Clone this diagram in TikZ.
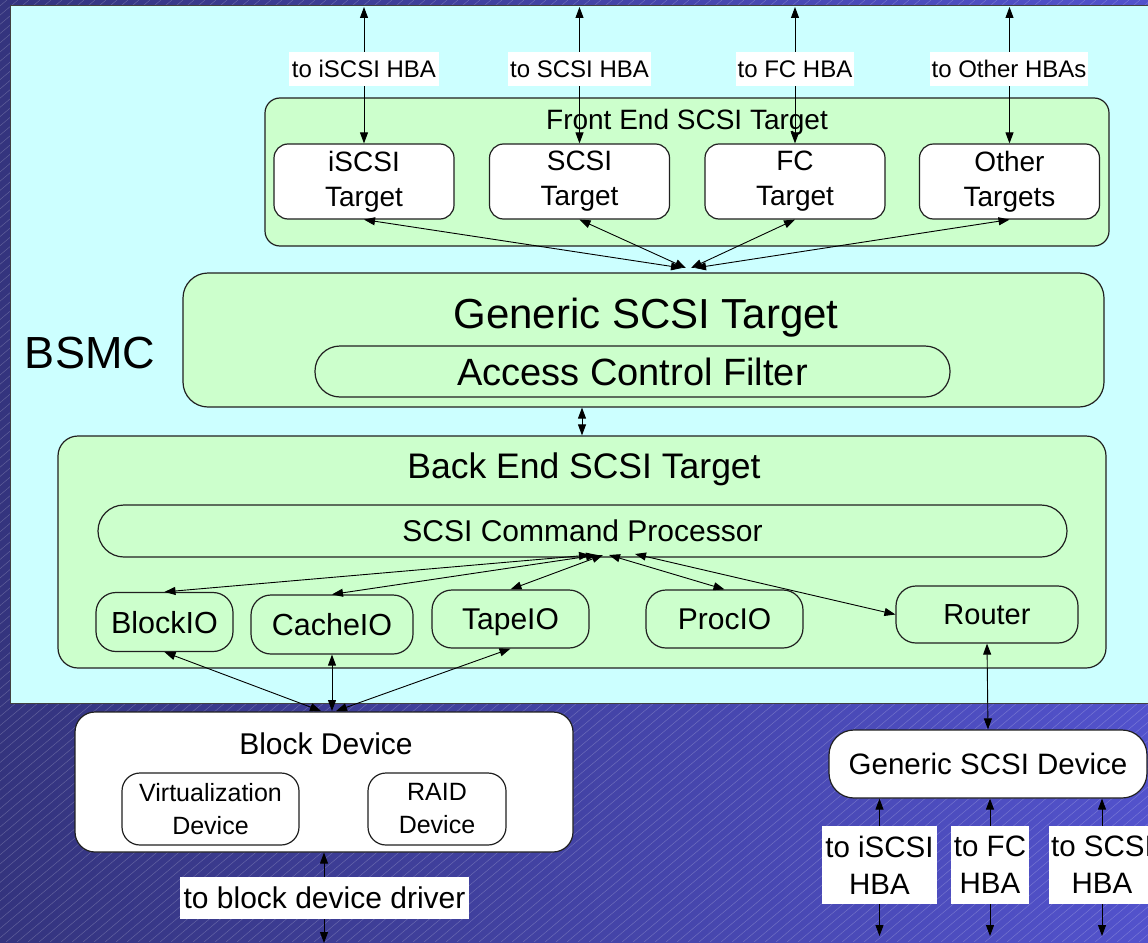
\documentclass[tikz,border=0pt]{standalone}
\usepackage{fontspec}
\setmainfont{Liberation Sans}
\usetikzlibrary{arrows.meta,calc}
\definecolor{panelcyan}{HTML}{CCFFFF}
\definecolor{boxgreen}{HTML}{CCFFCC}
\definecolor{bgleft}{HTML}{34347E}
\definecolor{bgmid}{HTML}{3A3A92}
\definecolor{bgright}{HTML}{5252CC}
\definecolor{edgecol}{HTML}{202020}
\newcommand{\fz}[1]{\fontsize{#1}{#1}\selectfont}
\newcommand{\fzz}[2]{\fontsize{#1}{#2}\selectfont}
\begin{document}
\begin{tikzpicture}[x=1pt,y=-1pt,
  rbox/.style={draw=edgecol, line width=1.2pt, rounded corners=#1, inner sep=0pt, align=center},
  rbox/.default=18pt,
  capc/.style={text height=#1, text depth=0pt},
  txt/.style={inner sep=0pt},
  lbl/.style={fill=white, inner sep=0pt, align=center},
  dbl/.style={{Triangle[length=11pt,width=8pt]}-{Triangle[length=11pt,width=8pt]}, line width=0.9pt, draw=black},
]
\useasboundingbox (0,0) rectangle (1148,942);
% background
\shade[left color=bgleft, middle color=bgmid, right color=bgright] (0,0) rectangle (1148,942);
\begin{scope}
  \clip (0,0) rectangle (1148,942);
  \foreach \i in {-1160,-1149,...,1160}
    \draw[white, opacity=0.22, line width=0.5pt] (\i,942) -- ++(1123,-942);
\end{scope}

% BSMC panel
\node[draw=edgecol!85, fill=panelcyan, line width=1.4pt, inner sep=0pt,
      minimum width=1150pt, minimum height=698pt, anchor=north west] (bsmc) at (10,5) {};
\node[txt, font=\fz{45}, capc=32.4pt] (bsmclabel) at (90,352) {BSMC};

% Front End SCSI Target
\node[rbox=15pt, fill=boxgreen, minimum width=844pt, minimum height=148pt] (fe) at (687,172) {};
\node[txt, font=\fz{28}, capc=20.2pt] (fetitle) at (687,119) {Front End SCSI Target};
\node[rbox=14pt, fill=white, minimum width=180pt, minimum height=75pt, font=\fzz{28}{35}] (tisc) at (364,181.5) {iSCSI\\Target};
\node[rbox=14pt, fill=white, minimum width=180pt, minimum height=75pt, font=\fzz{28}{35}] (tscsi) at (579.5,181.5) {SCSI\\Target};
\node[rbox=14pt, fill=white, minimum width=180pt, minimum height=75pt, font=\fzz{28}{35}] (tfc) at (795,181.5) {FC\\Target};
\node[rbox=14pt, fill=white, minimum width=180pt, minimum height=75pt, font=\fzz{28}{35}] (toth) at (1009.5,181.5) {Other\\Targets};

% Generic SCSI Target
\node[rbox=25pt, fill=boxgreen, minimum width=921pt, minimum height=134pt] (gst) at (643.5,340) {};
\node[txt, font=\fz{42}, capc=30.2pt] (gsttitle) at (646,313) {Generic SCSI Target};
\node[rbox=25pt, fill=boxgreen, minimum width=635pt, minimum height=51pt, font=\fz{38}, capc=27.4pt] (acf) at (632.5,371.5) {Access Control Filter};

% Back End SCSI Target
\node[rbox=20pt, fill=boxgreen, minimum width=1048pt, minimum height=232pt] (be) at (582,552) {};
\node[txt, font=\fz{35.5}, capc=25.6pt] (betitle) at (584,465.5) {Back End SCSI Target};
\node[rbox=26pt, fill=boxgreen, minimum width=969pt, minimum height=52pt, font=\fz{30}, capc=21.6pt] (cmd) at (582.5,531) {SCSI Command Processor};
\node[rbox=20pt, fill=boxgreen, minimum width=137pt, minimum height=59pt, font=\fz{30.5}, capc=22pt] (blockio) at (164.5,622) {BlockIO};
\node[rbox=20pt, fill=boxgreen, minimum width=162pt, minimum height=59pt, font=\fz{30.5}, capc=22pt] (cacheio) at (332,624.5) {CacheIO};
\node[rbox=20pt, fill=boxgreen, minimum width=157pt, minimum height=58pt, font=\fz{30}, capc=21.6pt] (tapeio) at (510.5,619) {TapeIO};
\node[rbox=20pt, fill=boxgreen, minimum width=157pt, minimum height=58pt, font=\fz{30}, capc=21.6pt] (procio) at (724.5,619) {ProcIO};
\node[rbox=20pt, fill=boxgreen, minimum width=182pt, minimum height=57pt, font=\fz{29}, capc=20.9pt] (router) at (987,614.5) {Router};

% Block Device
\node[rbox=20pt, fill=white, minimum width=498pt, minimum height=140pt] (blockdev) at (324,782) {};
\node[txt, font=\fz{30}, capc=21.6pt] (bdtitle) at (326,743.5) {Block Device};
\node[rbox=18pt, fill=white, minimum width=177pt, minimum height=72pt, font=\fzz{25}{33}] (virt) at (210.5,809) {Virtualization\\Device};
\node[rbox=18pt, fill=white, minimum width=138pt, minimum height=72pt, font=\fzz{25}{33}] (raid) at (437,809) {RAID\\Device};

% Generic SCSI Device
\node[rbox=25pt, fill=white, minimum width=318pt, minimum height=68pt, font=\fz{29.5}, capc=21.2pt] (gsd) at (988,764) {Generic SCSI Device};

% coordinates for free connector ends
\coordinate (u1) at (364,7);
\coordinate (u2) at (579.5,7);
\coordinate (u3) at (795,7);
\coordinate (u4) at (1009.5,7);
\coordinate (fc1) at (682,268);
\coordinate (fc2) at (686,268);
\coordinate (fc3) at (691,268);
\coordinate (fc4) at (695,268);
\coordinate (cp1) at (590,555);
\coordinate (cp2) at (597,555);
\coordinate (cp3) at (603,555);
\coordinate (cp4) at (609,555);
\coordinate (cp5) at (635,554);
\coordinate (bd1) at (321,711);
\coordinate (bd2) at (332,711);
\coordinate (bd3) at (336,711);
\coordinate (bdd) at (324,943);
\coordinate (d1) at (879.5,936);
\coordinate (d2) at (990,936);
\coordinate (d3) at (1102,936);

% connectors
\draw[dbl] (tisc.north) -- (u1);
\draw[dbl] (tscsi.north) -- (u2);
\draw[dbl] (tfc.north) -- (u3);
\draw[dbl] (toth.north) -- (u4);
\draw[dbl] (tisc.south) -- (fc1);
\draw[dbl] (tscsi.south) -- (fc2);
\draw[dbl] (tfc.south) -- (fc3);
\draw[dbl] (toth.south) -- (fc4);
\draw[dbl] (gst.south -| be.north) -- (be.north);
\draw[dbl] (cp1) -- (blockio.north);
\draw[dbl] (cp2) -- (cacheio.north);
\draw[dbl] (cp3) -- (tapeio.north);
\draw[dbl] (cp4) -- (procio.north);
\draw[dbl] (cp5) -- (router.west);
\draw[dbl] (blockio.south) -- (bd1);
\draw[dbl] (cacheio.south) -- (bd2);
\draw[dbl] (tapeio.south) -- (bd3);
\draw[dbl] (router.south) -- (gsd.north);
\draw[dbl] (blockdev.south) -- (bdd);
\draw[dbl] (gsd.south -| d1) -- (d1);
\draw[dbl] (gsd.south -| d2) -- (d2);
\draw[dbl] (gsd.south -| d3) -- (d3);

% labels on connectors
\node[lbl, font=\fz{24}, capc=17.3pt, minimum width=150pt, minimum height=34pt] (l1) at (364,69) {to iSCSI HBA};
\node[lbl, font=\fz{24}, capc=17.3pt, minimum width=143pt, minimum height=34pt] (l2) at (579.5,69) {to SCSI HBA};
\node[lbl, font=\fz{24}, capc=17.3pt, minimum width=118pt, minimum height=34pt] (l3) at (795,69) {to FC HBA};
\node[lbl, font=\fz{24}, capc=17.3pt, minimum width=158pt, minimum height=34pt] (l4) at (1009,69) {to Other HBAs};
\node[lbl, font=\fz{30}, capc=21.6pt, minimum width=289pt, minimum height=42pt] (drv) at (324.5,898) {to block device driver};
\node[lbl, font=\fzz{29.5}{37}, minimum width=115pt, minimum height=78pt] (h1) at (879.5,865) {to iSCSI\\HBA};
\node[lbl, font=\fzz{29.5}{37}, minimum width=78pt, minimum height=78pt] (h2) at (990,865) {to FC\\HBA};
\node[lbl, font=\fzz{29.5}{37}, minimum width=106pt, minimum height=78pt] (h3) at (1102,865) {to SCSI\\HBA};
\end{tikzpicture}
\end{document}
